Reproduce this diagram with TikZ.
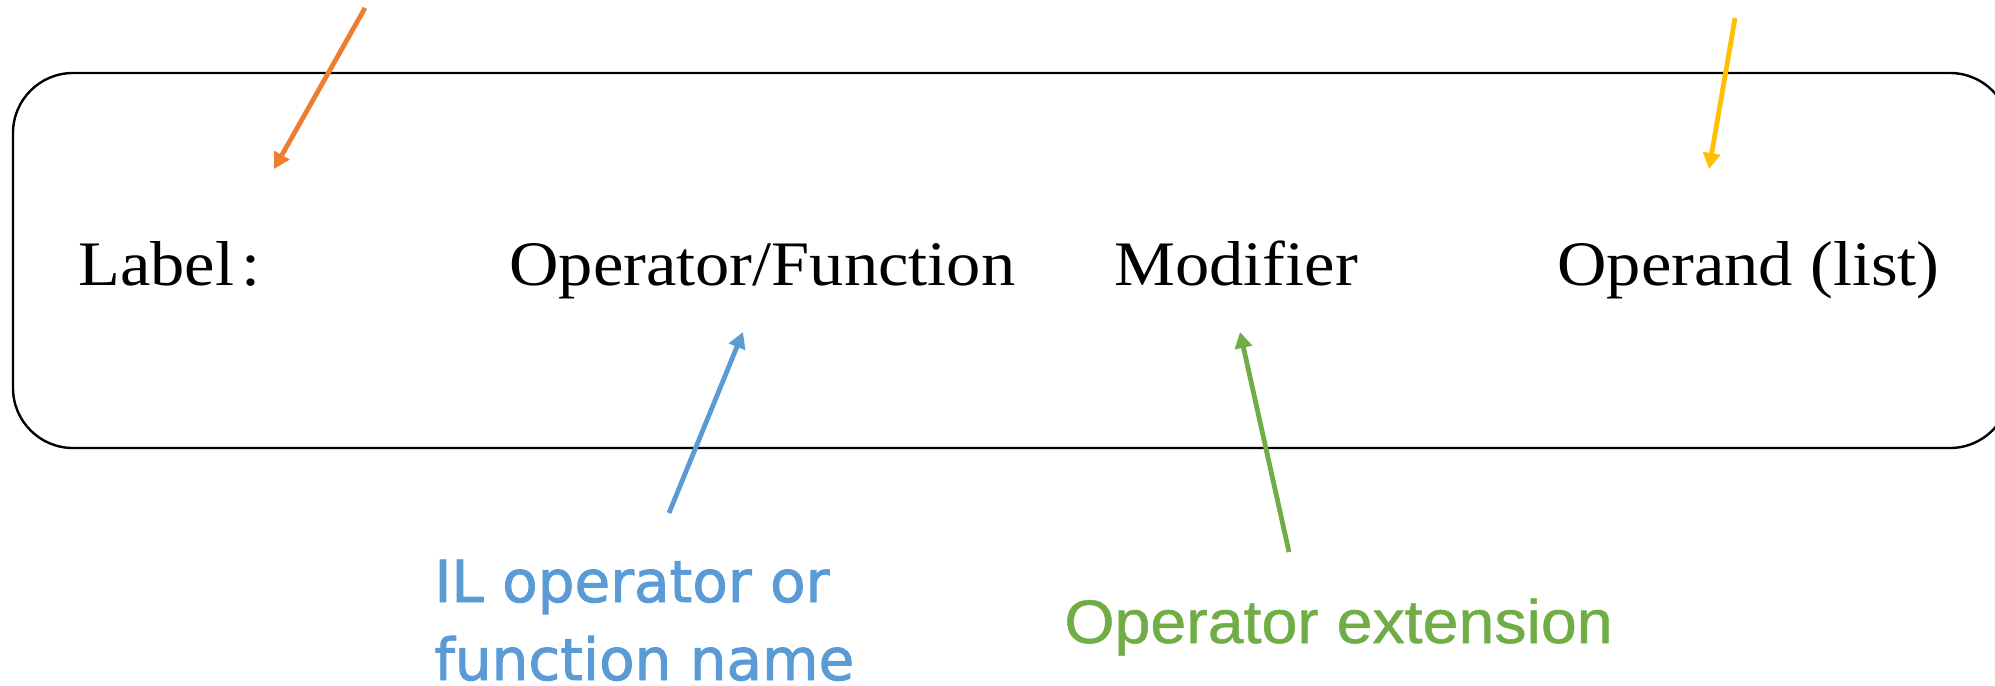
\documentclass[tikz,border=0pt]{standalone}
\usepackage{fontspec}
\usetikzlibrary{arrows.meta}
\newfontfamily\boxfont[FakeStretch=1.08]{Liberation Serif}
\newfontfamily\notefont[FakeBold=1.6]{DejaVu Sans}
\newfontfamily\extfont[FakeStretch=1.05,FakeBold=0.8]{Liberation Sans}
\definecolor{cOrange}{HTML}{ED7D31}
\definecolor{cYellow}{HTML}{FFC000}
\definecolor{cBlue}{HTML}{5B9BD5}
\definecolor{cGreen}{HTML}{70AD47}
\tikzset{
  field/.style={anchor=base west, inner sep=0pt, font=\boxfont\fontsize{31.7pt}{36pt}\selectfont},
  note/.style={anchor=base west, inner sep=0pt, align=left},
  pointer/.style={line width=2.4pt, -{Triangle[length=8pt,width=8.5pt]}},
  frame/.style={draw=black, line width=1.2pt, rounded corners=30pt}
}
\begin{document}
\begin{tikzpicture}[x=0.5pt,y=-0.5pt]
  \useasboundingbox (0,0) rectangle (1995,685);
  \clip (0,0) rectangle (1995,685);

  % instruction frame
  \draw[frame] (13,73) rectangle (2010,448);

  % the four fields of an instruction
  \node[field] (lbl) at (78,285) {Label\hspace{0.12em}:};
  \node[field] (op)  at (509,285) {Operator/Function};
  \node[field] (mod) at (1114,285) {Modifier};
  \node[field] (opd) at (1557,285) {Operand (list)};

  % explanatory notes (base anchor sits on the last line)
  \node[note, text=cBlue, font=\notefont\fontsize{29pt}{39pt}\selectfont] (opnote) at (434,680)
    {IL operator or\\function name};
  \node[note, text=cGreen, font=\extfont\fontsize{30.7pt}{36pt}\selectfont] (modnote) at (1064,643)
    {Operator extension};

  % arrow end points
  \coordinate (oS) at (365,8);
  \coordinate (oE) at (274,169);
  \coordinate (yS) at (1735,18);
  \coordinate (yE) at (1709,169);
  \coordinate (bS) at (669,513);
  \coordinate (bE) at (743,332);
  \coordinate (gS) at (1289,552);
  \coordinate (gE) at (1240,332);

  \draw[pointer, cOrange] (oS) -- (oE);
  \draw[pointer, cYellow] (yS) -- (yE);
  \draw[pointer, cBlue]   (bS) -- (bE);
  \draw[pointer, cGreen]  (gS) -- (gE);
\end{tikzpicture}
\end{document}
